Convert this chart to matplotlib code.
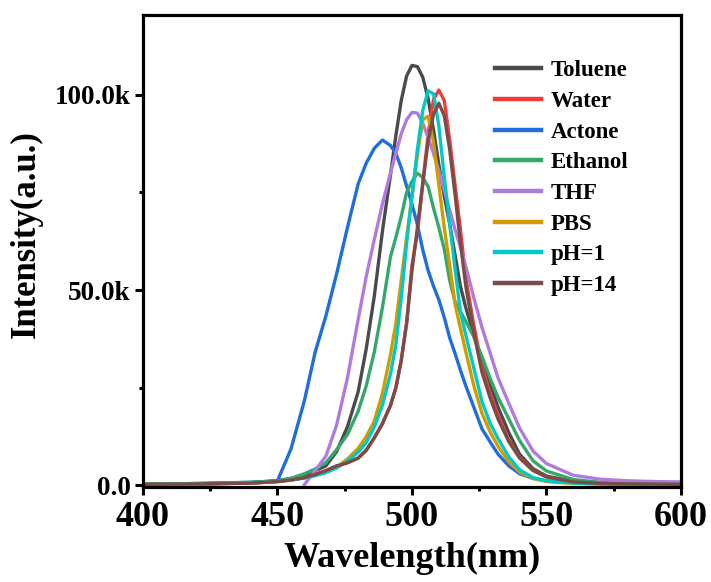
import matplotlib
matplotlib.use("Agg")
import numpy as np
import matplotlib.pyplot as plt
from matplotlib.ticker import MultipleLocator, FuncFormatter

# ---------------------------
# Emission spectra (intensity in thousands of counts)
# ---------------------------

wavelength = [400, 420, 440, 450, 455, 460, 464, 468, 472, 476,
              480, 483, 486, 489, 492, 494, 496, 498, 500, 502,
              504, 506, 508, 510, 512, 514, 516, 518, 520, 523,
              526, 529, 532, 536, 540, 545, 550, 560, 570, 580, 600]

toluene = [0.3, 0.4, 0.7, 1.2, 1.8, 2.6, 3.8, 5.0, 8.7, 15.0,
           24.0, 35.0, 48.5, 65.0, 79.5, 89.5, 98.5, 104.8, 107.5, 107.2,
           104.5, 99.0, 91.0, 82.0, 74.0, 67.0, 59.0, 51.0, 45.5, 38.5,
           32.0, 26.0, 20.0, 13.5, 8.0, 4.3, 2.4, 1.0, 0.6, 0.4, 0.3]

water = [0.3, 0.4, 0.6, 1.0, 1.4, 2.0, 2.8, 3.8, 5.0, 5.8,
         7.0, 9.0, 12.2, 15.8, 20.5, 25.0, 32.0, 41.6, 56.5, 64.5,
         77.0, 90.0, 98.8, 101.2, 98.5, 88.5, 77.0, 65.5, 53.0, 41.0,
         30.5, 23.5, 18.0, 11.5, 7.2, 3.9, 2.2, 0.9, 0.5, 0.4, 0.3]

actone = [0.3, 0.5, 0.8, 1.2, 9.3, 21.7, 34.1, 43.4, 54.2, 66.0,
          77.2, 82.5, 86.3, 88.4, 87.0, 85.0, 81.3, 76.6, 72.0, 66.8,
          60.3, 55.0, 51.0, 47.5, 43.0, 37.8, 33.8, 29.5, 25.5, 20.0,
          14.5, 11.2, 8.0, 5.0, 3.0, 1.8, 1.2, 0.7, 0.5, 0.4, 0.3]

ethanol = [0.3, 0.5, 0.8, 1.1, 1.8, 3.0, 4.2, 5.8, 9.2, 13.0,
           19.0, 25.5, 34.2, 45.5, 58.5, 63.5, 68.8, 75.0, 77.8, 79.9,
           78.8, 76.5, 71.0, 66.0, 60.5, 52.5, 47.0, 44.5, 42.0, 38.0,
           33.0, 27.5, 22.5, 17.0, 11.5, 6.3, 3.7, 1.5, 0.8, 0.5, 0.4]

pbs = [0.3, 0.4, 0.6, 1.0, 1.4, 2.0, 2.6, 3.4, 4.6, 6.8,
       9.5, 12.5, 16.5, 23.5, 33.5, 41.5, 52.5, 63.5, 74.0, 84.5,
       93.6, 94.5, 87.8, 76.8, 66.0, 56.5, 46.5, 40.2, 34.2, 25.5,
       18.5, 13.8, 10.0, 6.0, 3.4, 1.8, 1.0, 0.5, 0.4, 0.3, 0.3]

ph1 = [0.3, 0.4, 0.6, 1.0, 1.4, 1.9, 2.5, 3.3, 4.5, 6.2,
       8.5, 11.0, 15.0, 20.5, 28.5, 36.0, 48.0, 62.0, 74.0, 86.0,
       96.0, 101.0, 100.2, 92.0, 79.0, 67.0, 55.5, 44.5, 38.5, 30.0,
       21.5, 16.0, 12.0, 7.3, 4.0, 2.0, 1.2, 0.6, 0.4, 0.3, 0.3]

ph14 = [0.3, 0.4, 0.6, 1.0, 1.4, 2.0, 2.8, 3.8, 5.0, 5.8,
        7.0, 9.0, 12.2, 15.8, 20.5, 25.0, 32.0, 41.5, 55.0, 66.0,
        77.4, 88.0, 95.0, 97.8, 94.6, 86.0, 74.5, 62.0, 51.0, 39.0,
        29.0, 22.5, 17.0, 11.2, 7.0, 3.8, 2.2, 0.9, 0.5, 0.4, 0.3]

# THF was only recorded from 460 nm
wavelength_thf = [460, 464, 468, 472, 476, 480, 483, 486, 489, 492,
                  494, 496, 498, 500, 502, 504, 506, 508, 510, 512,
                  514, 516, 518, 520, 523, 526, 529, 532, 536, 540,
                  545, 550, 560, 570, 580, 590, 600]

thf = [0.2, 3.8, 7.5, 15.5, 27.5, 42.5, 53.5, 63.0, 72.0, 80.0,
       85.0, 90.0, 93.6, 95.5, 95.3, 92.7, 89.0, 85.0, 80.5, 75.5,
       70.5, 65.5, 61.0, 56.0, 48.0, 40.5, 34.0, 27.5, 21.0, 14.7,
       8.8, 5.6, 2.6, 1.6, 1.2, 1.0, 0.9]

labels = ["Toluene", "Water", "Actone", "Ethanol", "THF", "PBS", "pH=1", "pH=14"]
colors = ["#4a4a4a", "#f03c3c", "#1f6ddf", "#34a86b", "#b07ae0", "#d09c00", "#00c8c8", "#7a4b47"]

# ---------------------------
# Plot
# ---------------------------

plt.rcParams["font.family"] = ["Liberation Serif", "DejaVu Serif"]
plt.rcParams["font.weight"] = "bold"

fig = plt.figure(figsize=(7.11, 5.82), dpi=100)
ax = fig.add_axes([0.2011, 0.1632, 0.7567, 0.811])

series = [(wavelength, toluene), (wavelength, water), (wavelength, actone),
          (wavelength, ethanol), (wavelength_thf, thf), (wavelength, pbs),
          (wavelength, ph1), (wavelength, ph14)]

for (x, y), lab, col in zip(series, labels, colors):
    ax.plot(x, np.array(y) * 1000, color=col, lw=2.4, label=lab)

ax.set_xlim(400, 600)
ax.set_ylim(-400, 120400)

ax.xaxis.set_major_locator(MultipleLocator(50))
ax.xaxis.set_minor_locator(MultipleLocator(25))
ax.yaxis.set_major_locator(MultipleLocator(50000))
ax.yaxis.set_minor_locator(MultipleLocator(25000))
ax.yaxis.set_major_formatter(FuncFormatter(
    lambda v, p: "0.0" if v == 0 else f"{v / 1000:.1f}k"))

for side in ["left", "right", "top", "bottom"]:
    ax.spines[side].set_linewidth(2.3)

ax.tick_params(which="major", direction="out", length=6, width=2.2)
ax.tick_params(which="minor", direction="out", length=3, width=2.2)
ax.tick_params(axis="x", labelsize=26, pad=4)
ax.tick_params(axis="y", labelsize=19.5, pad=3)

ax.set_xlabel("Wavelength(nm)", fontsize=26, fontweight="bold", labelpad=6)
ax.set_ylabel("Intensity(a.u.)", fontsize=25, fontweight="bold")
ax.yaxis.set_label_coords(-0.186, 0.536)

leg = ax.legend(loc="upper left", bbox_to_anchor=(0.655, 0.904), frameon=False,
                fontsize=16.5, handlelength=2.0, handletextpad=0.4,
                labelspacing=0.42, borderpad=0, borderaxespad=0)
for line in leg.get_lines():
    line.set_linewidth(3.2)

plt.savefig("out.png", dpi=100)
